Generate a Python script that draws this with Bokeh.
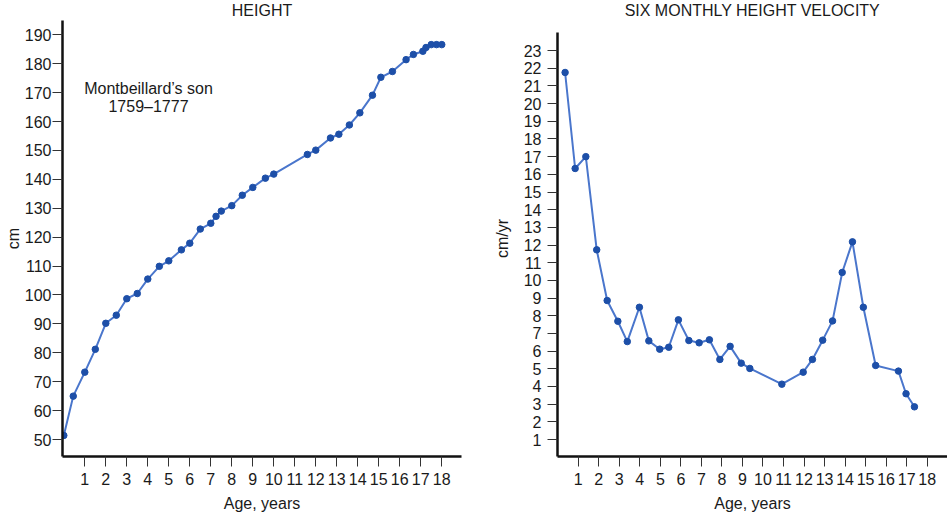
from bokeh.plotting import figure
from bokeh.layouts import row
from bokeh.models import FixedTicker, Label, Range1d, Title
from bokeh.embed import file_html
from bokeh.resources import INLINE

# ---- data ----
height_age = [0, 0.45, 1, 1.5, 2, 2.5, 3, 3.5, 4, 4.55, 5, 5.6, 6, 6.5, 7, 7.25, 7.5,
              8, 8.5, 9, 9.6, 10, 11.6, 12, 12.7, 13.1, 13.6, 14.1, 14.7, 15.1, 15.65,
              16.3, 16.65, 17.1, 17.25, 17.5, 17.75, 18]
height_cm = [51.4, 65.0, 73.3, 81.2, 90.2, 93.0, 98.7, 100.5, 105.5, 109.9, 111.8, 115.6,
             117.9, 122.8, 124.8, 127.2, 129.0, 130.9, 134.5, 137.2, 140.4, 141.8, 148.6,
             150.1, 154.3, 155.6, 158.8, 163.0, 169.1, 175.3, 177.3, 181.4, 183.2, 184.3,
             185.6, 186.6, 186.6, 186.6]

vel_age = [0.36, 0.85, 1.37, 1.9, 2.41, 2.93, 3.39, 3.98, 4.44, 4.97, 5.41, 5.88, 6.39,
           6.89, 7.39, 7.9, 8.4, 8.94, 9.36, 10.92, 11.96, 12.41, 12.91, 13.39, 13.86,
           14.36, 14.89, 15.49, 16.6, 16.97, 17.38]
vel_cm_yr = [21.76, 16.33, 17.0, 11.73, 8.86, 7.69, 6.54, 8.48, 6.58, 6.11, 6.22, 7.77,
             6.6, 6.47, 6.64, 5.53, 6.27, 5.32, 5.02, 4.13, 4.81, 5.53, 6.62, 7.71, 10.45,
             12.18, 8.48, 5.19, 4.87, 3.59, 2.85]

x_ticks = list(range(1, 19))
height_ticks = list(range(50, 191, 10))
vel_ticks = list(range(1, 24))

FONT = "Liberation Sans"
FS = "16px"
LINE_C = "#4a76cc"
DOT_C = "#1d4fa8"
TXT = "#1a1a1a"


def style(p, xt, yt, ylabel, y_std, y_lab_std):
    p.xgrid.visible = False
    p.ygrid.visible = False
    p.outline_line_color = None
    for ax in (p.xaxis[0], p.yaxis[0]):
        ax.axis_line_width = 2.5
        ax.axis_line_color = "#111111"
        ax.major_tick_line_color = "#333333"
        ax.major_tick_line_width = 1
        ax.major_tick_in = 0
        ax.major_tick_out = 10
        ax.minor_tick_line_color = None
        ax.major_label_text_font = FONT
        ax.major_label_text_font_size = FS
        ax.major_label_text_color = TXT
        ax.axis_label_text_font = FONT
        ax.axis_label_text_font_size = FS
        ax.axis_label_text_font_style = "normal"
        ax.axis_label_text_color = TXT
        ax.axis_label_text_line_height = 1.0
    p.xaxis[0].ticker = FixedTicker(ticks=xt)
    p.yaxis[0].ticker = FixedTicker(ticks=yt)
    p.xaxis[0].major_label_standoff = 6
    p.yaxis[0].major_label_standoff = y_std
    p.xaxis[0].axis_label = "Age, years"
    p.xaxis[0].axis_label_standoff = 7
    p.yaxis[0].axis_label = ylabel
    p.yaxis[0].axis_label_standoff = y_lab_std


def title(p, text):
    p.add_layout(Title(text=text, align="center", vertical_align="top", standoff=0,
                       text_font=FONT, text_font_size=FS, text_font_style="normal",
                       text_line_height=1.0, text_color=TXT), "above")


# ---- left: height ----
p1 = figure(width=470, height=515, output_backend="svg", toolbar_location=None, title=None,
            x_range=Range1d(-0.062, 18.94), y_range=Range1d(44.12, 194.94),
            min_border_left=62, min_border_right=9, min_border_top=20, min_border_bottom=59)
style(p1, x_ticks, height_ticks, "cm", 1, 0)
title(p1, "HEIGHT")
p1.line(height_age, height_cm, line_color=LINE_C, line_width=2)
p1.scatter(height_age, height_cm, size=6.5, fill_color=DOT_C, line_color=DOT_C)
for txt, yy in (("Montbeillard\u2019s son", 368), ("1759\u20131777", 350)):
    p1.add_layout(Label(x=86, y=yy, x_units="screen", y_units="screen", text=txt,
                        text_align="center", text_baseline="middle",
                        text_font=FONT, text_font_size=FS, text_color=TXT))

# ---- right: velocity ----
p2 = figure(width=477, height=515, output_backend="svg", toolbar_location=None, title=None,
            x_range=Range1d(-0.01, 18.99), y_range=Range1d(0.04, 24.70),
            min_border_left=87, min_border_right=0, min_border_top=20, min_border_bottom=59)
style(p2, x_ticks, vel_ticks, "cm/yr", 6, 10)
p2.yaxis[0].bounds = (0, 24)
title(p2, "SIX MONTHLY HEIGHT VELOCITY")
p2.line(vel_age, vel_cm_yr, line_color=LINE_C, line_width=2)
p2.scatter(vel_age, vel_cm_yr, size=6.5, fill_color=DOT_C, line_color=DOT_C)

layout = row(p1, p2)
open("out.html", "w").write(file_html(layout, INLINE))
